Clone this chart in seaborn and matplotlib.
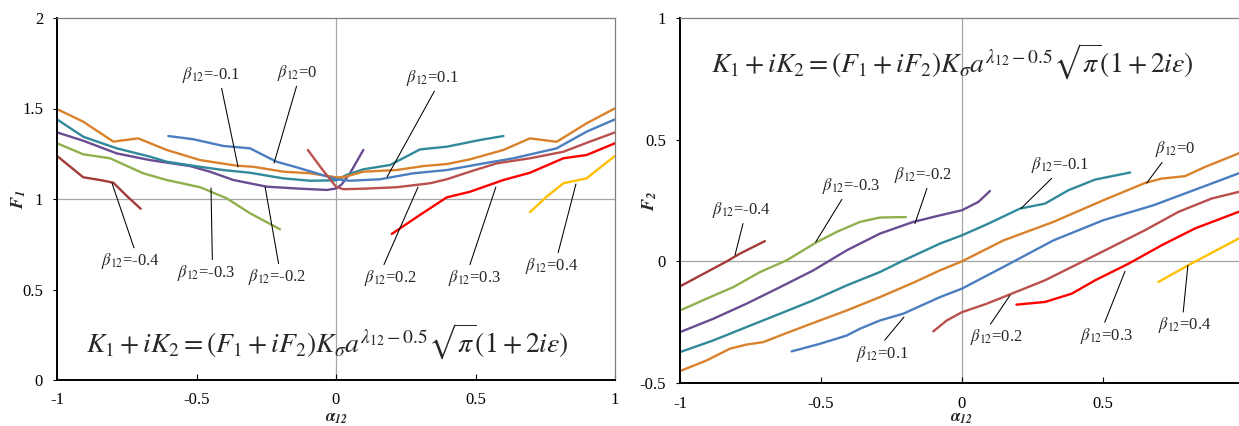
import numpy as np
import pandas as pd
import matplotlib
matplotlib.use("Agg")
import matplotlib.pyplot as plt
import seaborn as sns

# ---------------- data: left panel (F1) ----------------
l_a_m04 = [-1, -0.906, -0.846, -0.798, -0.75, -0.70]
l_f_m04 = [1.238, 1.120, 1.105, 1.090, 1.017, 0.946]
l_a_m03 = [-1, -0.906, -0.81, -0.691, -0.607, -0.487, -0.392, -0.308, -0.201]
l_f_m03 = [1.308, 1.247, 1.225, 1.142, 1.105, 1.065, 1.004, 0.921, 0.833]
l_a_m02 = [-1, -0.906, -0.786, -0.667, -0.523, -0.452, -0.368, -0.248, -0.129, -0.033, 0.0, 0.02, 0.05, 0.098]
l_f_m02 = [1.368, 1.322, 1.252, 1.215, 1.182, 1.151, 1.105, 1.068, 1.057, 1.050, 1.058, 1.08, 1.142, 1.271]
l_a_m01 = [-1, -0.906, -0.786, -0.667, -0.607, -0.487, -0.404, -0.308, -0.189, -0.093, 0.0, 0.038, 0.098, 0.194, 0.301, 0.397, 0.516, 0.600]
l_f_m01 = [1.440, 1.344, 1.280, 1.234, 1.206, 1.178, 1.160, 1.145, 1.114, 1.101, 1.103, 1.133, 1.164, 1.188, 1.274, 1.289, 1.326, 1.348]
l_a_0 = [-1, -0.906, -0.798, -0.709, -0.607, -0.487, -0.356, -0.296, -0.189, -0.093, 0.0, 0.026, 0.098, 0.217, 0.313, 0.397, 0.480, 0.600, 0.695, 0.791, 0.898, 1.0]
l_f_0 = [1.497, 1.427, 1.317, 1.335, 1.271, 1.215, 1.184, 1.178, 1.151, 1.142, 1.120, 1.120, 1.151, 1.160, 1.182, 1.193, 1.219, 1.271, 1.335, 1.316, 1.418, 1.501]
l_a_p01 = [-0.601, -0.511, -0.404, -0.308, -0.261, -0.213, -0.141, -0.069, 0.0, 0.050, 0.158, 0.277, 0.397, 0.516, 0.636, 0.791, 0.898, 1.0]
l_f_p01 = [1.348, 1.330, 1.293, 1.280, 1.243, 1.206, 1.175, 1.142, 1.109, 1.101, 1.109, 1.142, 1.160, 1.193, 1.225, 1.280, 1.372, 1.440]
l_a_p02 = [-0.101, -0.05, 0.0, 0.026, 0.098, 0.217, 0.337, 0.397, 0.480, 0.576, 0.695, 0.815, 0.910, 1.0]
l_f_p02 = [1.271, 1.165, 1.068, 1.054, 1.057, 1.065, 1.087, 1.109, 1.151, 1.197, 1.225, 1.261, 1.317, 1.368]
l_a_p03 = [0.2, 0.301, 0.397, 0.48, 0.6, 0.695, 0.815, 0.898, 1.0]
l_f_p03 = [0.807, 0.912, 1.009, 1.040, 1.105, 1.145, 1.225, 1.243, 1.308]
l_a_p04 = [0.695, 0.755, 0.815, 0.898, 1.0]
l_f_p04 = [0.927, 1.013, 1.087, 1.114, 1.238]

# ---------------- data: right panel (F2) ----------------
r_a_m04 = [-1, -0.905, -0.834, -0.787, -0.699]
r_f_m04 = [-0.103, -0.044, 0.0, 0.032, 0.083]
r_a_m03 = [-1, -0.905, -0.811, -0.716, -0.622, -0.515, -0.444, -0.362, -0.291, -0.199]
r_f_m03 = [-0.202, -0.153, -0.106, -0.044, 0.004, 0.079, 0.121, 0.162, 0.180, 0.182]
r_a_m02 = [-1, -0.882, -0.764, -0.645, -0.527, -0.409, -0.291, -0.173, -0.078, 0.0, 0.058, 0.099]
r_f_m02 = [-0.291, -0.236, -0.174, -0.106, -0.037, 0.045, 0.114, 0.162, 0.189, 0.210, 0.244, 0.289]
r_a_m01 = [-1, -0.882, -0.764, -0.645, -0.527, -0.409, -0.291, -0.214, -0.078, 0.0, 0.088, 0.206, 0.294, 0.377, 0.472, 0.596]
r_f_m01 = [-0.373, -0.325, -0.270, -0.215, -0.160, -0.099, -0.044, 0.0, 0.073, 0.107, 0.152, 0.217, 0.237, 0.292, 0.336, 0.365]
r_a_0 = [-1, -0.905, -0.823, -0.764, -0.705, -0.598, -0.504, -0.409, -0.291, -0.173, -0.078, 0.0, 0.147, 0.324, 0.501, 0.649, 0.708, 0.791, 0.862, 0.98, 1.0]
r_f_0 = [-0.451, -0.407, -0.359, -0.342, -0.332, -0.284, -0.243, -0.202, -0.147, -0.088, -0.037, 0.0, 0.086, 0.162, 0.251, 0.322, 0.340, 0.350, 0.388, 0.443, 0.455]
r_a_p01 = [-0.604, -0.504, -0.409, -0.362, -0.291, -0.208, -0.078, 0.0, 0.147, 0.324, 0.501, 0.678, 0.791, 0.98, 1.0]
r_f_p01 = [-0.370, -0.339, -0.305, -0.277, -0.243, -0.215, -0.147, -0.112, -0.023, 0.086, 0.169, 0.230, 0.279, 0.361, 0.37]
r_a_p02 = [-0.102, -0.054, 0.0, 0.088, 0.176, 0.294, 0.412, 0.531, 0.649, 0.767, 0.885, 0.98, 1.0]
r_f_p02 = [-0.288, -0.243, -0.209, -0.174, -0.133, -0.078, -0.010, 0.059, 0.128, 0.203, 0.258, 0.285, 0.29]
r_a_p03 = [0.193, 0.294, 0.389, 0.472, 0.590, 0.708, 0.826, 0.98, 1.0]
r_f_p03 = [-0.178, -0.167, -0.133, -0.078, -0.010, 0.066, 0.135, 0.203, 0.21]
r_a_p04 = [0.696, 0.809, 0.98, 1.0]
r_f_p04 = [-0.085, -0.012, 0.093, 0.105]

betas = ["-0.4", "-0.3", "-0.2", "-0.1", "0", "0.1", "0.2", "0.3", "0.4"]
colors = ["#A33B38", "#8FB04C", "#6A4C93", "#31899C", "#D9822B",
          "#4A7EBF", "#B9504D", "#FF0000", "#FFC000"]

left_series = [(l_a_m04, l_f_m04), (l_a_m03, l_f_m03), (l_a_m02, l_f_m02),
               (l_a_m01, l_f_m01), (l_a_0, l_f_0), (l_a_p01, l_f_p01),
               (l_a_p02, l_f_p02), (l_a_p03, l_f_p03), (l_a_p04, l_f_p04)]
right_series = [(r_a_m04, r_f_m04), (r_a_m03, r_f_m03), (r_a_m02, r_f_m02),
                (r_a_m01, r_f_m01), (r_a_0, r_f_0), (r_a_p01, r_f_p01),
                (r_a_p02, r_f_p02), (r_a_p03, r_f_p03), (r_a_p04, r_f_p04)]

# annotation labels: (beta, text position, curve point, leader anchor on text)
left_labels = ["-0.1", "0", "0.1", "-0.4", "-0.3", "-0.2", "0.2", "0.3", "0.4"]
left_text_xy = [(-0.448, 1.685), (-0.138, 1.696), (0.344, 1.669), (-0.737, 0.657),
                (-0.464, 0.591), (-0.210, 0.569), (0.195, 0.564), (0.495, 0.564), (0.774, 0.630)]
left_point_xy = [(-0.351, 1.177), (-0.222, 1.199), (0.183, 1.122), (-0.803, 1.088),
                 (-0.448, 1.061), (-0.254, 1.066), (0.294, 1.066), (0.573, 1.066), (0.860, 1.083)]
left_relpos = [(0.67, 0), (0.5, 0), (0.58, 0), (0.58, 1), (0.6, 1), (0.53, 1),
               (0.35, 1), (0.4, 1), (0.6, 1)]

right_labels = ["-0.4", "-0.3", "-0.2", "-0.1", "0", "0.1", "0.2", "0.3", "0.4"]
right_text_xy = [(-0.782, 0.210), (-0.394, 0.309), (-0.137, 0.354), (0.348, 0.395),
                 (0.757, 0.461), (-0.284, -0.379), (0.121, -0.313), (0.511, -0.305), (0.789, -0.263)]
right_point_xy = [(-0.805, 0.025), (-0.519, 0.079), (-0.167, 0.155), (0.209, 0.217),
                  (0.655, 0.322), (-0.206, -0.229), (0.170, -0.140), (0.578, -0.041), (0.801, -0.016)]
right_relpos = [(0.54, 0), (0.38, 0), (0.58, 0), (0.41, 0), (0.23, 0),
                (0.5, 1), (0.35, 1), (0.45, 1), (0.47, 1)]

formula = r"$K_1+iK_2=(F_1+iF_2)K_\sigma a^{\lambda_{12}-0.5}\sqrt{\pi}(1+2i\varepsilon)$"


def to_frame(series):
    rows = []
    for b, (a, f) in zip(betas, series):
        for ai, fi in zip(a, f):
            rows.append((ai, fi, b))
    return pd.DataFrame(rows, columns=["alpha", "F", "beta"])


sns.set_style("ticks")
plt.rcParams["font.family"] = ["Liberation Serif", "DejaVu Serif"]
plt.rcParams["mathtext.fontset"] = "stix"

fig = plt.figure(figsize=(12.39, 4.26), dpi=100)
W, H = 1239, 426
axL = fig.add_axes([57 / W, (H - 380) / H, 558 / W, 362 / H])
axR = fig.add_axes([680 / W, (H - 383) / H, 564 / W, 365 / H])

palette = dict(zip(betas, colors))


def style_axes(ax, ylim, yticks, yticklabels, xticks, xticklabels, hline, ylabel):
    ax.set_xlim(-1, 1)
    ax.set_ylim(*ylim)
    ax.axhline(hline, color="#A6A6A6", lw=0.9, zorder=0)
    ax.axvline(0, color="#A6A6A6", lw=0.9, zorder=0)
    ax.set_yticks(yticks)
    ax.set_yticklabels(yticklabels)
    ax.set_xticks(xticks)
    ax.set_xticklabels(xticklabels)
    ax.tick_params(axis="x", direction="in", length=4, width=0.8, pad=9,
                   labelsize=12, colors="black")
    ax.tick_params(axis="y", direction="out", length=3, width=0.8, pad=7,
                   labelsize=12, colors="black")
    for s in ["left", "bottom"]:
        ax.spines[s].set_color("black")
        ax.spines[s].set_linewidth(1.4)
    for s in ["top", "right"]:
        ax.spines[s].set_color("#7F7F7F")
        ax.spines[s].set_linewidth(0.9)
    ax.set_ylabel(ylabel, fontsize=13)
    ax.set_xlabel(r"$\mathbfit{\alpha}_{\mathbfit{12}}$", fontsize=12)


for ax, series, labs, txy, pxy, rp in [
    (axL, left_series, left_labels, left_text_xy, left_point_xy, left_relpos),
    (axR, right_series, right_labels, right_text_xy, right_point_xy, right_relpos),
]:
    df = to_frame(series)
    sns.lineplot(data=df, x="alpha", y="F", hue="beta", palette=palette,
                 hue_order=betas, estimator=None, sort=False, units="beta",
                 lw=1.7, legend=False, ax=ax)
    for lab, t, p, r in zip(labs, txy, pxy, rp):
        ax.annotate(r"$\beta_{\mathit{12}}$=" + lab, xy=p, xytext=t,
                    ha="center", va="center", fontsize=12,
                    arrowprops=dict(arrowstyle="-", color="black", lw=0.75,
                                    shrinkA=0, shrinkB=0, relpos=r))

style_axes(axL, (0, 2), [0, 0.5, 1, 1.5, 2], ["0", "0.5", "1", "1.5", "2"],
           [-1, -0.5, 0, 0.5, 1], ["-1", "-0.5", "0", "0.5", "1"], 1,
           r"$\mathbfit{F}_{\mathbfit{1}}$")
style_axes(axR, (-0.5, 1), [-0.5, 0, 0.5, 1], ["-0.5", "0", "0.5", "1"],
           [-1, -0.5, 0, 0.5], ["-1", "-0.5", "0", "0.5"], 0,
           r"$\mathbfit{F}_{\mathbfit{2}}$")
axL.yaxis.set_label_coords(-0.052, 0.5)
axR.yaxis.set_label_coords(-0.038, 0.5)
# x labels: bottom edge just inside the canvas
axL.xaxis.set_label_coords(0.5, -45.5 / 362)
axR.xaxis.set_label_coords(0.5 * 562 / 564, -42.5 / 365)
axL.xaxis.label.set_va("bottom")
axR.xaxis.label.set_va("bottom")

axL.text(-0.030, 0.210, formula, ha="center", va="center", fontsize=20)
axR.text(-0.035, 0.819, formula, ha="center", va="center", fontsize=20)

fig.savefig("out.png", dpi=100)
